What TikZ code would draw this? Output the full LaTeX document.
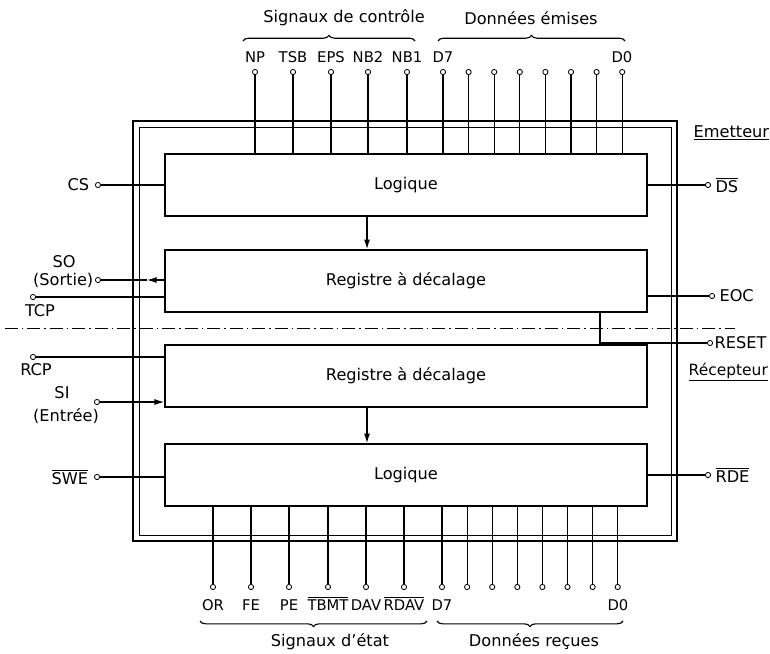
\documentclass[tikz,border=0pt]{standalone}
\usepackage{fontspec}
\setmainfont{DejaVu Sans}
\usepackage{tikz}
\usetikzlibrary{arrows.meta, positioning, decorations.pathreplacing}
\newcommand{\inv}[1]{$\overline{\mbox{#1}}$}
\tikzset{
  bloc/.style={draw, line width=1.2pt, minimum width=12.05cm, minimum height=1.55cm},
  borne/.style={circle, draw, line width=0.6pt, fill=white, inner sep=0pt, minimum size=1.3mm},
  fil/.style={line width=0.8pt},
  fleche/.style={-{Latex[length=2.4mm,width=1.5mm]}, line width=0.8pt},
  accolade/.style={decorate, decoration={brace, amplitude=4pt}, line width=0.8pt},
  lbl/.style={inner sep=1pt},
  nom/.style={inner sep=1pt, anchor=base, font=\fontsize{10.5}{12}\selectfont}
}

\begin{document}
\begin{tikzpicture}[x=0.025cm, y=-0.025cm, font=\fontsize{11.5}{13}\selectfont]
    \useasboundingbox (0,0) rectangle (770,653);

    % cadre double
    \draw[line width=1.3pt] (133,121) rectangle (677,541);
    \draw[line width=0.6pt] (139,127) rectangle (671,535);

    \node[bloc] (logE) at (406,185) {Logique};
    \node[bloc] (regE) at (406,281) {Registre à décalage};
    \node[bloc] (regR) at (406,376) {Registre à décalage};
    \node[bloc] (logR) at (406,475) {Logique};

    \coordinate (axe) at (367,0);
    \coordinate (rst) at (600,343);
    \coordinate (soF) at (147,280);

    \draw[fleche] (logE.south -| axe) -- (regE.north -| axe);
    \draw[fleche] (regR.south -| axe) -- (logR.north -| axe);

    \draw[dash pattern=on 9pt off 3pt on 1pt off 3pt, line width=0.6pt] (5,328) -- (735,328);

    % broches gauche
    \node[borne] (pCS) at (98,185) {};
    \node[lbl, left=3pt of pCS] (lCS) {CS};
    \node[borne] (pSO) at (98,280) {};
    \node[lbl, left=0pt of pSO] (lSortie) {(Sortie)};
    \node[lbl] (lSO) at (64,262) {SO};
    \node[borne] (pTCP) at (33,297) {};
    \node[lbl] (lTCP) at (40,311) {TCP};
    \node[borne] (pRCP) at (33,357) {};
    \node[lbl] (lRCP) at (36,370) {RCP};
    \node[borne] (pSI) at (97,402) {};
    \node[lbl] (lSI) at (62,393) {SI};
    \node[lbl] (lEntree) at (66,416) {(Entrée)};
    \node[borne] (pSWE) at (97,477) {};
    \node[lbl, left=3pt of pSWE] (lSWE) {\inv{SWE}};

    \draw[fil] (pCS) -- (pCS -| logE.west);
    \draw[fil] (pSO) -- (soF);
    \draw[fleche] (pSO -| regE.west) -- (soF);
    \draw[fil] (pTCP) -- (pTCP -| regE.west);
    \draw[fil] (pRCP) -- (pRCP -| regR.west);
    \draw[fleche] (pSI) -- (pSI -| regR.west);
    \draw[fil] (pSWE) -- (pSWE -| logR.west);

    % broches droite
    \node[borne] (pDS) at (708,185) {};
    \node[lbl, right=2pt of pDS] (lDS) {\inv{DS}};
    \node[borne] (pEOC) at (712,296) {};
    \node[lbl, right=2pt of pEOC] (lEOC) {EOC};
    \node[borne] (pRST) at (710,343) {};
    \node[lbl, right=0pt of pRST] (lRST) {RESET};
    \node[borne] (pRDE) at (708,475) {};
    \node[lbl, right=2pt of pRDE] (lRDE) {\inv{RDE}};

    \draw[fil] (logE.east |- pDS) -- (pDS);
    \draw[fil] (regE.east |- pEOC) -- (pEOC);
    \draw[fil] (regE.south -| rst) -- (regR.north -| rst);
    \draw[fil] (rst) -- (pRST);
    \draw[fil] (logR.east |- pRDE) -- (pRDE);

    \node[lbl, anchor=west] (tEm) at (692,133) {\underline{Emetteur}};
    \node[lbl, anchor=west, font=\fontsize{11}{13}\selectfont] (tRec) at (687,372) {\underline{Récepteur}};

    % broches haut
    \foreach \nm/\x in {NP/255, TSB/293, EPS/331, NB2/368, NB1/407}{
      \node[borne] (p\nm) at (\x,72) {};
      \node[nom] (l\nm) at (\x,62) {\nm};
      \draw[fil] (p\nm) -- (p\nm |- logE.north);
    }
    \foreach \i in {0,...,7}{
      \node[borne] (eD\i) at (443+25.6*\i,72) {};
      \draw[fil] (eD\i) -- (eD\i |- logE.north);
    }
    \node[nom] (lD7e) at (443,62) {D7};
    \node[nom] (lD0e) at (622,62) {D0};

    % broches bas
    \foreach \nm/\x/\txt in {OR/213/OR, FE/251/FE, PE/289/PE, TBMT/328/\inv{TBMT}, DAV/366/DAV, RDAV/404/\inv{RDAV}}{
      \node[borne] (p\nm) at (\x,587) {};
      \node[nom] (l\nm) at (\x,610) {\txt};
      \draw[fil] (p\nm) -- (p\nm |- logR.south);
    }
    \foreach \i in {0,...,7}{
      \node[borne] (rD\i) at (442+25.1*\i,587) {};
      \draw[fil] (rD\i) -- (rD\i |- logR.south);
    }
    \node[nom] (lD7r) at (442,610) {D7};
    \node[nom] (lD0r) at (618,610) {D0};

    % accolades
    \draw[accolade] (243,41) -- (415,41);
    \draw[accolade] (438,41) -- (625,41);
    \draw[accolade] (427,621) -- (200,621);
    \draw[accolade] (623,621) -- (437,621);
    \node[lbl] (tCtrl) at (344,18) {Signaux de contrôle};
    \node[lbl] (tEmis) at (531,18) {Données émises};
    \node[lbl] (tEtat) at (330,642) {Signaux d'état};
    \node[lbl] (tRecu) at (534,642) {Données reçues};
  \end{tikzpicture}
\end{document}
